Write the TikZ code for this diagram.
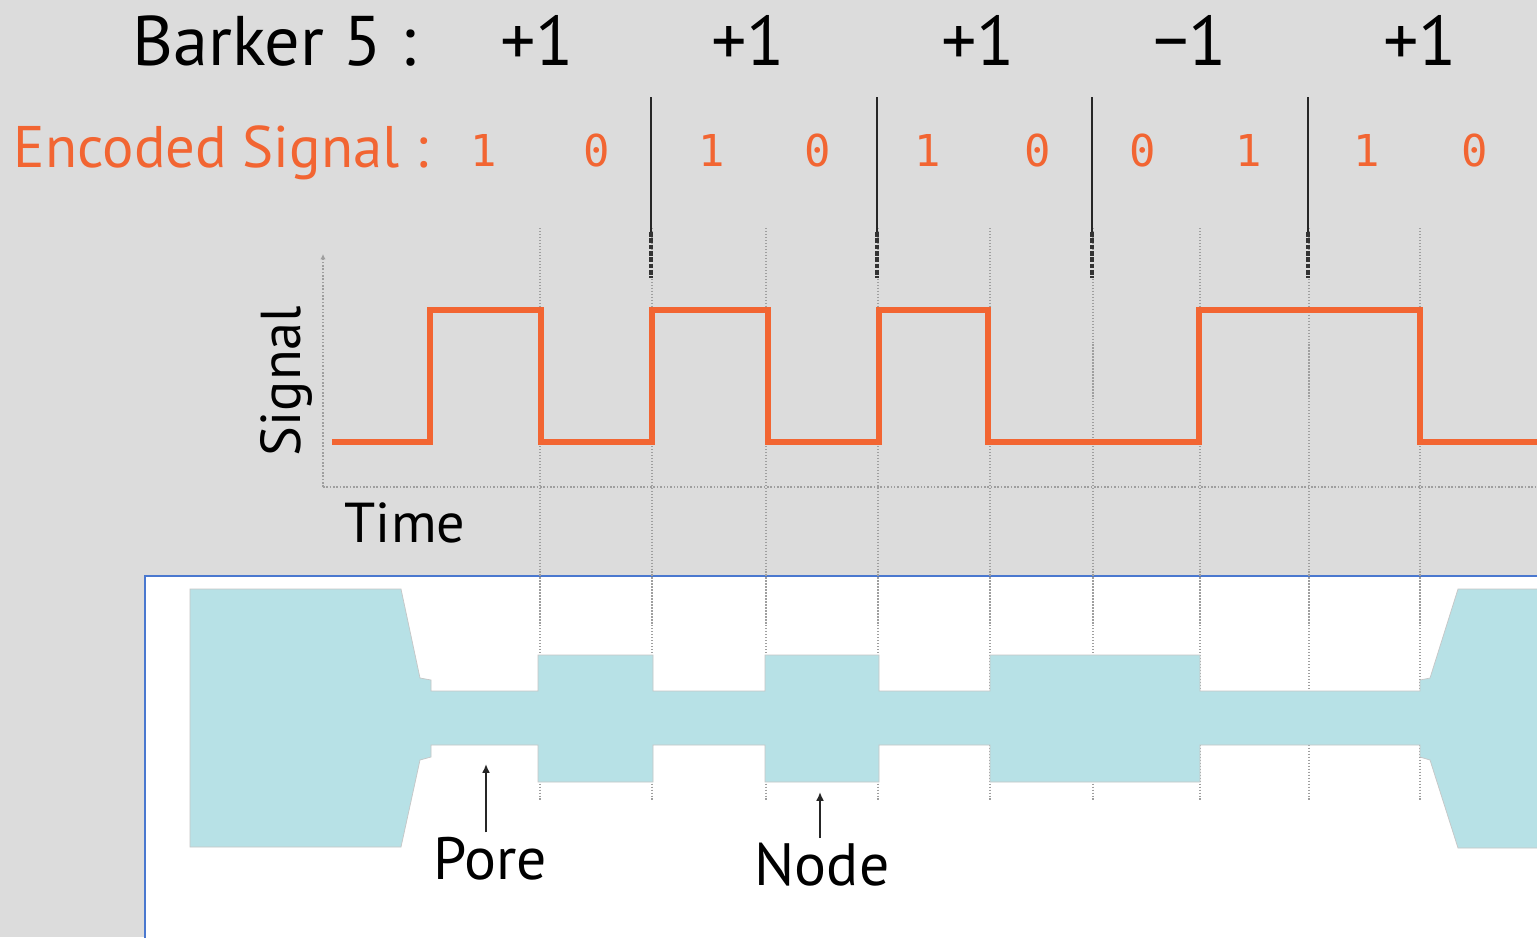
\documentclass[tikz,border=0pt]{standalone}
\usepackage{fontspec}
\setmainfont{PT Sans}
\newfontfamily\bitfont{DejaVu Sans Mono}
\usetikzlibrary{arrows.meta}

\definecolor{bggray}{HTML}{DCDCDC}
\definecolor{sigorange}{HTML}{F26532}
\definecolor{chancyan}{HTML}{B7E1E6}
\definecolor{boxblue}{HTML}{4A78CF}

\tikzset{
  barkerlabel/.style={inner sep=0pt, anchor=base, font=\fontsize{40}{40}\selectfont},
  codelabel/.style={inner sep=0pt, anchor=base, text=sigorange, font=\fontsize{33.4}{34}\selectfont},
  bitlabel/.style={inner sep=0pt, anchor=base, text=sigorange, font=\bitfont\fontsize{25}{25}\selectfont},
  axislabel/.style={inner sep=0pt, anchor=base, font=\fontsize{32}{32}\selectfont},
  partlabel/.style={inner sep=0pt, anchor=base, font=\fontsize{34}{34}\selectfont},
  gridline/.style={gray!75, densely dotted, line width=0.7pt},
  bitsep/.style={black!85, line width=1.5pt},
  pointer/.style={black!85, line width=1.2pt, -{Latex[length=5pt,width=4.5pt]}}
}

\begin{document}
\begin{tikzpicture}[x=0.02cm,y=-0.02cm]

\useasboundingbox (0,0) rectangle (1537,937);
\clip (0,0) rectangle (1537,937);
\fill[bggray] (0,0) rectangle (1537,937); % Background

\filldraw[fill=white, draw=boxblue, line width=1.2pt] (145,576) rectangle (1560,960); % Device panel

% Time grid
\draw[gridline] (540,228) -- (540,800);
\draw[gridline] (652,228) -- (652,800);
\draw[gridline] (766,228) -- (766,800);
\draw[gridline] (878,228) -- (878,800);
\draw[gridline] (990,228) -- (990,800);
\draw[gridline] (1093,228) -- (1093,800);
\draw[gridline] (1200,228) -- (1200,800);
\draw[gridline] (1309,228) -- (1309,800);
\draw[gridline] (1420,228) -- (1420,800);

% Channel with pores and nodes
\filldraw[fill=chancyan, draw=gray!45, line width=0.4pt]
  (190,589) -- (401,589) -- (420,678) -- (431,680) -- (431,691)
  -- (538,691) -- (538,655) -- (653,655) -- (653,691)
  -- (765,691) -- (765,655) -- (879,655) -- (879,691)
  -- (990,691) -- (990,655) -- (1200,655) -- (1200,691)
  -- (1420,691) -- (1420,680) -- (1430,678) -- (1458,589) -- (1560,589)
  -- (1560,848) -- (1458,848) -- (1430,760) -- (1420,757) -- (1420,745)
  -- (1200,745) -- (1200,782) -- (990,782) -- (990,745)
  -- (879,745) -- (879,782) -- (765,782) -- (765,745)
  -- (653,745) -- (653,782) -- (538,782) -- (538,745)
  -- (431,745) -- (431,757) -- (420,760) -- (401,847) -- (190,847) -- cycle;

% Axes
\draw[gray!75, densely dotted, line width=0.9pt] (323,487) -- (1560,487);
\draw[gray!75, densely dotted, line width=0.9pt, -{Latex[length=3pt,width=3pt]}] (323,487) -- (323,254);

% Signal trace
\draw[sigorange, line width=3.2pt, line join=miter]
  (332,442) -- (430,442) -- (430,310) -- (541,310) -- (541,442)
  -- (652,442) -- (652,310) -- (768,310) -- (768,442)
  -- (879,442) -- (879,310) -- (988,310) -- (988,442)
  -- (1199,442) -- (1199,310) -- (1420,310) -- (1420,442) -- (1560,442);

% Chip boundaries
\draw[bitsep] (651,97) -- (651,232);
\draw[bitsep] (877,97) -- (877,232);
\draw[bitsep] (1092,97) -- (1092,232);
\draw[bitsep] (1308,97) -- (1308,232);
\draw[black!80, line width=2.6pt, densely dotted] (651,232) -- (651,278);
\draw[black!80, line width=2.6pt, densely dotted] (877,232) -- (877,278);
\draw[black!80, line width=2.6pt, densely dotted] (1092,232) -- (1092,278);
\draw[black!80, line width=2.6pt, densely dotted] (1308,232) -- (1308,278);

% Barker code row
\node[barkerlabel] (barker) at (274,65) {Barker 5 :};
\node[barkerlabel] (chipA) at (537,65) {+1};
\node[barkerlabel] (chipB) at (748,65) {+1};
\node[barkerlabel] (chipC) at (978,65) {+1};
\node[barkerlabel] (chipD) at (1190,65) {\char"2212 1};
\node[barkerlabel] (chipE) at (1420,65) {+1};

% Encoded row
\node[codelabel] (encoded) at (221,167) {Encoded Signal :};
\node[bitlabel] (bitA) at (484,166) {1};
\node[bitlabel] (bitB) at (597,166) {0};
\node[bitlabel] (bitC) at (712,166) {1};
\node[bitlabel] (bitD) at (818,166) {0};
\node[bitlabel] (bitE) at (928,166) {1};
\node[bitlabel] (bitF) at (1038,166) {0};
\node[bitlabel] (bitG) at (1143,166) {0};
\node[bitlabel] (bitH) at (1249,166) {1};
\node[bitlabel] (bitI) at (1367,166) {1};
\node[bitlabel] (bitJ) at (1475,166) {0};

% Axis labels
\node[axislabel, rotate=90] (signal) at (300,381) {Signal};
\node[axislabel] (time) at (405,542) {Time};

% Pore and node callouts
\node[partlabel] (pore) at (490,879) {Pore};
\node[partlabel] (node) at (822,885) {Node};
\coordinate (poretip) at (486,764);
\coordinate (nodetip) at (820,792);
\draw[pointer] (pore.north -| poretip) ++(0,-4) -- (poretip);
\draw[pointer] (node.north -| nodetip) ++(0,-4) -- (nodetip);

\end{tikzpicture}
\end{document}
